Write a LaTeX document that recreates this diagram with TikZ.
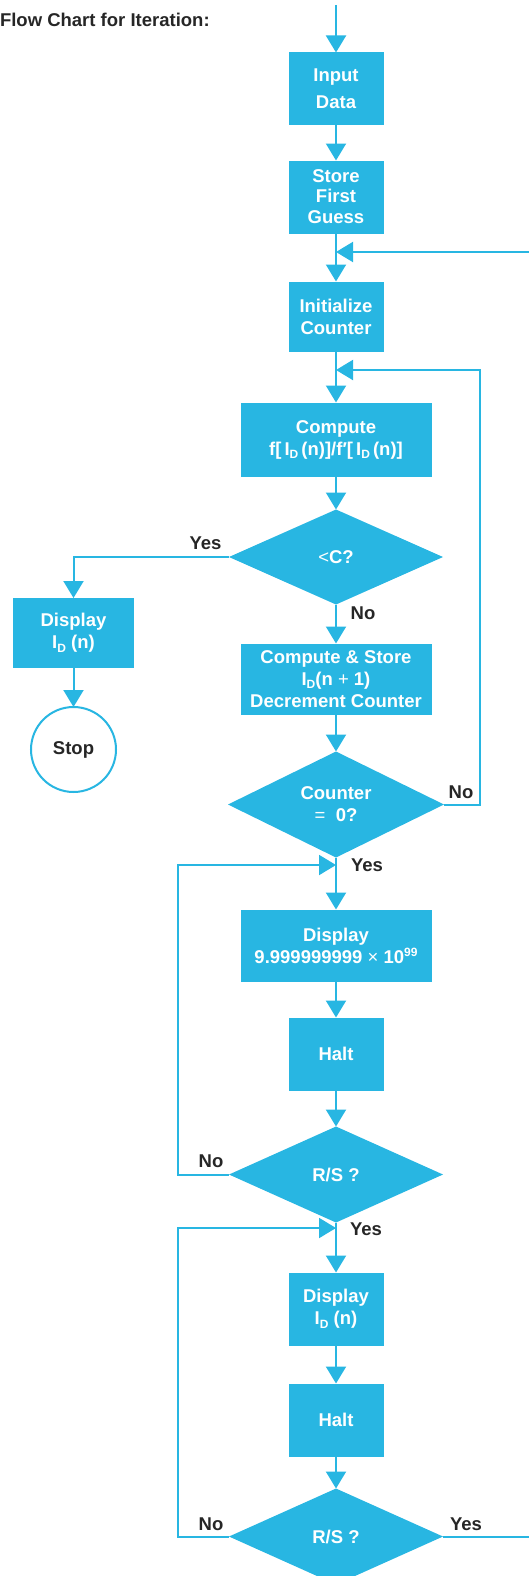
\documentclass[tikz,border=0pt]{standalone}
\usepackage{fontspec}
\setmainfont{Liberation Sans}
\usepackage{tikz}
\usetikzlibrary{arrows.meta, positioning, shapes.geometric}
\definecolor{hpcyan}{RGB}{40,182,226}
\definecolor{inkgray}{RGB}{38,38,38}
\newcommand{\idx}[1]{\raisebox{-3.5pt}{\fontsize{12}{12}\selectfont #1}}
\newcommand{\pow}[1]{\raisebox{7pt}{\fontsize{12}{12}\selectfont #1}}

\begin{document}
\begin{tikzpicture}[
  x=1pt, y=-1pt,
  node distance=35pt,
  every node/.style={font=\fontsize{18.5}{22}\selectfont\bfseries, outer sep=0pt},
  process/.style={rectangle, fill=hpcyan, text=white, align=center, inner sep=2pt, minimum width=95pt, minimum height=73pt},
  wide/.style={process, minimum width=191pt},
  decision/.style={diamond, fill=hpcyan, text=white, align=center, inner sep=0pt, minimum width=214pt, minimum height=95pt},
  terminal/.style={circle, draw=hpcyan, line width=2pt, fill=white, text=inkgray, minimum size=85pt, inner sep=0pt},
  answer/.style={text=inkgray, inner sep=0pt},
  arrow/.style={draw=hpcyan, line width=2pt, -{Triangle[width=20pt,length=17pt]}},
  flowline/.style={draw=hpcyan, line width=2pt}
]
\useasboundingbox (0,0) rectangle (529,1576);

% Title
\node[answer, anchor=base west] (title) at (0,27) {Flow Chart for Iteration:};

% Main column
\node[process] (input) at (336,89) {Input\\[5pt]Data};
\node[process, below=35pt of input] (store) {Store\\[-2pt]First\\[-1pt]Guess};
\node[process, minimum height=70pt, below=48pt of store] (init) {Initialize\\Counter};
\node[wide, minimum height=74pt, below=51pt of init] (compute) {Compute\\f[\,I\idx{D}\,(n)]/f′[\,I\idx{D}\,(n)]};
\node[decision, below=33pt of compute] (lessc) {{\mdseries <}C?};
\node[wide, minimum height=71pt, below=39pt of lessc] (update) {Compute \& Store\\I\idx{D}(n {\mdseries +} 1)\\Decrement Counter};
\node[decision, minimum width=216pt, below=37pt of update] (counter) {Counter\\{\mdseries =}\ \ 0?};
\node[wide, minimum height=72pt, below=52pt of counter] (dispmax) {Display\\9.999999999 {\mdseries ×} 10\pow{99}};
\node[process, below=36pt of dispmax] (halta) {Halt};
\node[decision, minimum height=96pt, below=36pt of halta] (rsa) {R/S ?};
\node[process, below=50pt of rsa] (dispid) {Display\\I\idx{D} (n)};
\node[process, below=38pt of dispid] (haltb) {Halt};
\node[decision, minimum height=96pt, below=32pt of haltb] (rsb) {R/S ?};

% Left branch
\node[process, minimum width=121pt, minimum height=70pt] (dispres) at (73.5,633) {Display\\I\idx{D} (n)};
\node[terminal, below=39pt of dispres] (stop) {Stop};

% Join points and page edge
\coordinate (start) at (336,5);
\coordinate (edge) at (529,0);
\coordinate (joina) at (336,252);
\coordinate (joinb) at (336,370);
\coordinate (joinc) at (336,865);
\coordinate (joind) at (336,1228);

% Arrows
\draw[arrow] (start) -- (input);
\draw[arrow] (input) -- (store);
\draw[arrow] (store) -- (init);
\draw[arrow] (init) -- (compute);
\draw[arrow] (compute) -- (lessc);
\draw[arrow] (lessc) -- (update);
\draw[arrow] (update) -- (counter);
\draw[arrow] (counter) -- (dispmax);
\draw[arrow] (dispmax) -- (halta);
\draw[arrow] (halta) -- (rsa);
\draw[arrow] (rsa) -- (dispid);
\draw[arrow] (dispid) -- (haltb);
\draw[arrow] (haltb) -- (rsb);
\draw[arrow] (lessc.west) -| (dispres);
\draw[arrow] (dispres) -- (stop);

% Loops
\draw[arrow] (joina -| edge) -- (joina);
\draw[arrow] (counter.east) -- ++(36pt,0) |- (joinb);
\draw[arrow] (rsa.west) -- ++(-51pt,0) |- (joinc);
\draw[arrow] (rsb.west) -- ++(-51pt,0) |- (joind);
\draw[flowline] (rsb.east) -- (rsb.east -| edge);

% Branch labels
\node[answer] (yesc) at ([xshift=-23.5pt,yshift=14pt]lessc.west) {Yes};
\node[answer] (noc) at ([xshift=27pt,yshift=-9pt]lessc.south) {No};
\node[answer] (nocount) at ([xshift=17pt,yshift=12.5pt]counter.east) {No};
\node[answer] (yescount) at ([xshift=31pt,yshift=-8pt]counter.south) {Yes};
\node[answer] (noa) at ([xshift=-18pt,yshift=13pt]rsa.west) {No};
\node[answer] (yesa) at ([xshift=30pt,yshift=-7pt]rsa.south) {Yes};
\node[answer] (nob) at ([xshift=-18pt,yshift=12pt]rsb.west) {No};
\node[answer] (yesb) at ([xshift=23pt,yshift=12pt]rsb.east) {Yes};

\end{tikzpicture}
\end{document}
